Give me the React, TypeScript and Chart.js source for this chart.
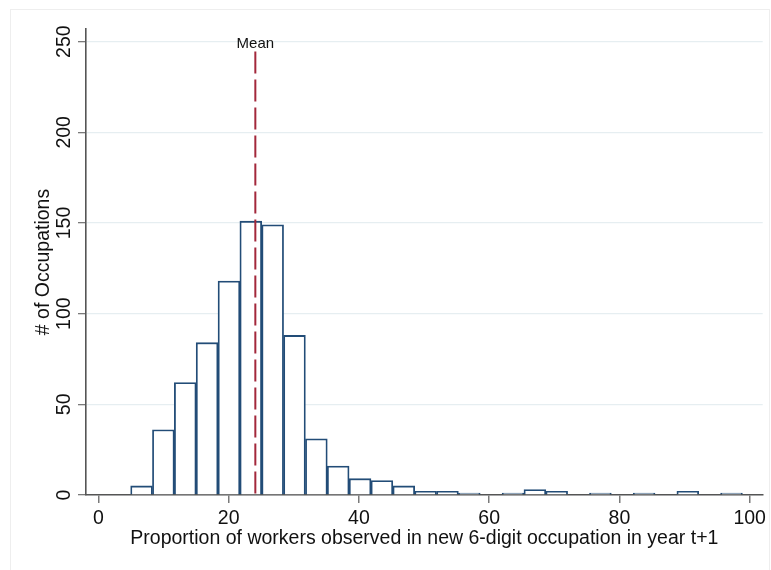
import React, { useEffect, useRef } from "react";
import { Chart, registerables } from "chart.js";

Chart.register(...registerables);

// Histogram bins: midpoint of each bin (percent of workers) and the number of occupations in it
const binMidpoints = [
  6.63, 9.98, 13.34, 16.69, 20.05, 23.4, 26.76, 30.11, 33.47, 36.82,
  40.18, 43.53, 46.89, 50.24, 53.6, 56.95, 60.31, 63.66, 67.02, 70.37,
  73.73, 77.08, 80.44, 83.79, 87.15, 90.5, 93.86, 97.21,
];
const occupationCounts = [
  5, 36, 62, 84, 118, 151, 149, 88, 31, 16,
  9, 8, 5, 2, 2, 1, 0, 1, 3, 2,
  0, 1, 0, 1, 0, 2, 0, 1,
];

const xTickValues = [0, 20, 40, 60, 80, 100];
const yTickValues = [0, 50, 100, 150, 200, 250];

const meanShare = 24.1;
const meanLineTop = 244.6;
const meanLabelLevel = 250;
const meanLabel = "Mean";

const xAxisTitle = "Proportion of workers observed in new 6-digit occupation in year t+1";
const yAxisTitle = "# of Occupations";

const FONT = "'Liberation Sans', Arial, Helvetica, sans-serif";
const TEXT = "#111111";

export default function App() {
  const canvasRef = useRef<HTMLCanvasElement | null>(null);

  useEffect(() => {
    const canvas = canvasRef.current;
    if (!canvas) return;

    // white page with a faint outer frame
    const frame = {
      id: "frame",
      beforeDraw(chart: any) {
        const { ctx, width, height } = chart;
        ctx.save();
        ctx.fillStyle = "#ffffff";
        ctx.fillRect(0, 0, width, height);
        ctx.strokeStyle = "#eeeeee";
        ctx.lineWidth = 1;
        ctx.strokeRect(10.5, 9.5, width - 12, height + 20);
        ctx.restore();
      },
    };

    // vertical value labels on the y axis
    const yLabels = {
      id: "yLabels",
      afterDraw(chart: any) {
        const { ctx } = chart;
        const ys = chart.scales.y;
        ctx.save();
        ctx.font = `19.5px ${FONT}`;
        ctx.fillStyle = TEXT;
        ctx.textAlign = "center";
        ctx.textBaseline = "middle";
        for (const t of ys.ticks) {
          const py = ys.getPixelForValue(t.value);
          ctx.save();
          ctx.translate(64.5, py);
          ctx.rotate(-Math.PI / 2);
          ctx.fillText(String(t.value), 0, 0);
          ctx.restore();
        }
        ctx.restore();
      },
    };

    // dashed mean line with its label
    const meanMarker = {
      id: "meanMarker",
      afterDatasetsDraw(chart: any) {
        const { ctx } = chart;
        const xs = chart.scales.x;
        const ys = chart.scales.y;
        const px = xs.getPixelForValue(meanShare);
        ctx.save();
        ctx.strokeStyle = "#a3283b";
        ctx.lineWidth = 2;
        ctx.setLineDash([22, 6]);
        ctx.beginPath();
        ctx.moveTo(px, ys.getPixelForValue(meanLineTop));
        ctx.lineTo(px, ys.getPixelForValue(0));
        ctx.stroke();
        ctx.setLineDash([]);
        ctx.font = `15px ${FONT}`;
        ctx.fillStyle = TEXT;
        ctx.textAlign = "center";
        ctx.textBaseline = "alphabetic";
        ctx.fillText(meanLabel, px, ys.getPixelForValue(meanLabelLevel) + 6.5);
        ctx.restore();
      },
    };

    const chart = new Chart(canvas, {
      type: "bar",
      data: {
        datasets: [
          {
            data: binMidpoints.map((x, i) => ({ x, y: occupationCounts[i] })),
            backgroundColor: "#ffffff",
            borderColor: "#224c77",
            borderWidth: 1.8,
            borderSkipped: "start",
            barPercentage: 1,
            categoryPercentage: 1,
          },
        ],
      },
      options: {
        responsive: false,
        animation: false,
        layout: { padding: { top: 29, right: 8.3, bottom: 0, left: 0 } },
        plugins: {
          legend: { display: false },
          tooltip: { enabled: false },
        },
        scales: {
          x: {
            type: "linear",
            min: -1.9,
            max: 102,
            offset: false,
            afterBuildTicks: (s: any) => {
              s.ticks = xTickValues.map((v) => ({ value: v }));
            },
            afterFit: (s: any) => {
              s.height = 75;
            },
            grid: {
              display: true,
              offset: false,
              drawOnChartArea: false,
              drawTicks: true,
              tickLength: 8,
              tickColor: "#7a7a7a",
              lineWidth: 1.5,
            },
            border: { display: true, color: "#555555", width: 1.6 },
            ticks: {
              autoSkip: false,
              maxRotation: 0,
              padding: 3.5,
              color: TEXT,
              font: { family: FONT, size: 19.5 },
            },
            title: {
              display: true,
              text: xAxisTitle,
              color: TEXT,
              font: { family: FONT, size: 19.5 },
              padding: { top: 0, bottom: 20 },
            },
          },
          y: {
            min: 0,
            max: 257,
            afterBuildTicks: (s: any) => {
              s.ticks = yTickValues.map((v) => ({ value: v }));
            },
            afterFit: (s: any) => {
              s.width = 86;
            },
            grid: {
              color: "#e6eef1",
              lineWidth: 1.3,
              drawTicks: true,
              tickLength: 8,
              tickColor: "#7a7a7a",
            },
            border: { display: true, color: "#555555", width: 1.6 },
            ticks: { display: false },
            title: {
              display: true,
              text: yAxisTitle,
              color: TEXT,
              font: { family: FONT, size: 19.5 },
              padding: { top: 32.3, bottom: 0 },
            },
          },
        },
      },
      plugins: [frame, meanMarker, yLabels],
    } as any);

    return () => {
      chart.destroy();
    };
  }, []);

  return (
    <div style={{ position: "absolute", left: 0, top: 0, width: 771, height: 570, background: "#ffffff" }}>
      <canvas ref={canvasRef} width={771} height={570} style={{ display: "block" }} />
    </div>
  );
}
